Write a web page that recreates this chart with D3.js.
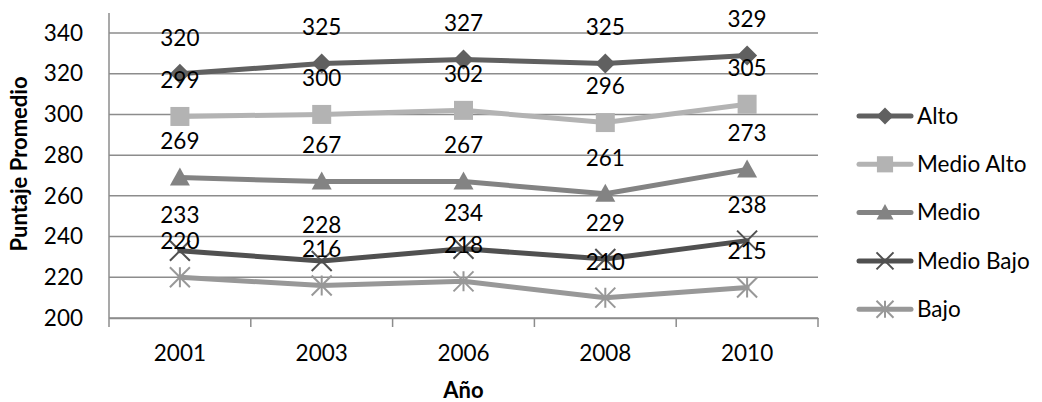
<!DOCTYPE html>
<html>
<head>
<meta charset="utf-8">
<script src="https://cdn.jsdelivr.net/npm/d3@7"></script>
<style>
  html, body { margin: 0; padding: 0; background: #fff; }
  svg { display: block; font-family: Lato, "Open Sans", sans-serif; }
</style>
</head>
<body>
<svg id="chart" width="1042" height="402"></svg>
<script>
// Puntaje promedio por nivel socioeconómico, 2001–2010
const years = ["2001", "2003", "2006", "2008", "2010"];
const seriesNames = ["Alto", "Medio Alto", "Medio", "Medio Bajo", "Bajo"];
const alto = [320, 325, 327, 325, 329];
const medioAlto = [299, 300, 302, 296, 305];
const medio = [269, 267, 267, 261, 273];
const medioBajo = [233, 228, 234, 229, 238];
const bajo = [220, 216, 218, 210, 215];
const yTicks = [200, 220, 240, 260, 280, 300, 320, 340];
const yTitle = "Puntaje Promedio";
const xTitle = "Año";

const seriesValues = [alto, medioAlto, medio, medioBajo, bajo];
const seriesColors = ["#606060", "#b3b3b3", "#838383", "#505050", "#989898"];
const seriesMarkers = ["diamond", "square", "triangle", "cross", "asterisk"];

const series = seriesNames.map((name, i) => ({
  name, values: seriesValues[i], color: seriesColors[i], marker: seriesMarkers[i]
}));

const FONT = 22.5;
const svg = d3.select("#chart");
const plot = { left: 109, right: 818, top: 13, bottom: 318 };

const x = d3.scaleBand().domain(years).range([plot.left, plot.right]);
const xc = d => x(d) + x.bandwidth() / 2;
const y = d3.scaleLinear().domain([200, 340]).range([318, 33]);

const gridColor = "#8c8c8c";

// horizontal gridlines
svg.append("g")
  .selectAll("line")
  .data(yTicks)
  .join("line")
  .attr("x1", plot.left).attr("x2", plot.right)
  .attr("y1", d => y(d)).attr("y2", d => y(d))
  .attr("stroke", gridColor).attr("stroke-width", 1.5);

// y axis
const yAxis = svg.append("g")
  .attr("transform", `translate(${plot.left},0)`)
  .call(d3.axisLeft(y).tickValues(yTicks).tickSize(0).tickPadding(26));
yAxis.select(".domain").remove();
yAxis.selectAll("text").attr("font-size", FONT).attr("fill", "#000")
  .attr("font-family", "Lato, sans-serif");
svg.append("line")
  .attr("x1", plot.left).attr("x2", plot.left)
  .attr("y1", plot.top).attr("y2", plot.bottom)
  .attr("stroke", gridColor).attr("stroke-width", 1.5);

// x axis
const xAxis = svg.append("g")
  .attr("transform", `translate(0,${plot.bottom})`)
  .call(d3.axisBottom(x).tickSize(0).tickPadding(27));
xAxis.select(".domain").attr("stroke", gridColor).attr("stroke-width", 1.5);
xAxis.selectAll("text").attr("font-size", FONT).attr("fill", "#000")
  .attr("font-family", "Lato, sans-serif");
// category boundary ticks
const boundaries = years.map(d => x(d)).concat([plot.right]);
svg.append("g")
  .selectAll("line")
  .data(boundaries)
  .join("line")
  .attr("x1", d => d).attr("x2", d => d)
  .attr("y1", plot.bottom).attr("y2", plot.bottom + 9)
  .attr("stroke", gridColor).attr("stroke-width", 1.5);

// axis titles
svg.append("text")
  .attr("transform", `translate(27,164) rotate(-90)`)
  .attr("text-anchor", "middle")
  .attr("font-size", 22).attr("font-weight", "bold")
  .text(yTitle);
svg.append("text")
  .attr("x", (plot.left + plot.right) / 2).attr("y", 398)
  .attr("text-anchor", "middle")
  .attr("font-size", 22).attr("font-weight", "bold")
  .text(xTitle);

// marker shapes
function drawMarker(g, type, color, s) {
  const h = s / 2;
  if (type === "diamond") {
    g.append("path").attr("d", `M0,${-h}L${h},0L0,${h}L${-h},0Z`).attr("fill", color);
  } else if (type === "square") {
    const q = h * 0.95;
    g.append("rect").attr("x", -q).attr("y", -q).attr("width", 2 * q).attr("height", 2 * q).attr("fill", color);
  } else if (type === "triangle") {
    g.append("path").attr("d", `M0,${-h}L${h},${h * 0.8}L${-h},${h * 0.8}Z`).attr("fill", color);
  } else if (type === "cross") {
    g.append("path").attr("d", `M${-h},${-h}L${h},${h}M${-h},${h}L${h},${-h}`)
      .attr("stroke", color).attr("stroke-width", 2).attr("fill", "none");
  } else if (type === "asterisk") {
    g.append("path").attr("d", `M${-h},${-h}L${h},${h}M${-h},${h}L${h},${-h}M0,${-h}L0,${h}`)
      .attr("stroke", color).attr("stroke-width", 2).attr("fill", "none");
  }
}

const line = d3.line().x((d, i) => xc(years[i])).y(d => y(d));

const seriesG = svg.append("g");
series.forEach(s => {
  seriesG.append("path")
    .attr("d", line(s.values))
    .attr("fill", "none")
    .attr("stroke", s.color)
    .attr("stroke-width", 5)
    .attr("stroke-linejoin", "round")
    .attr("stroke-linecap", "round");
  s.values.forEach((v, i) => {
    const g = seriesG.append("g").attr("transform", `translate(${xc(years[i])},${y(v)})`);
    drawMarker(g, s.marker, s.color, 20);
  });
});

// data labels above each point
const labelG = svg.append("g");
series.forEach(s => {
  labelG.selectAll(null)
    .data(s.values)
    .join("text")
    .attr("x", (d, i) => xc(years[i]))
    .attr("y", d => y(d) - 36)
    .attr("dy", "0.35em")
    .attr("text-anchor", "middle")
    .attr("font-size", FONT)
    .attr("fill", "#000")
    .text(d => d);
});

// legend
const legend = svg.append("g");
series.forEach((s, i) => {
  const ly = 116 + i * 48.3;
  const g = legend.append("g").attr("transform", `translate(0,${ly})`);
  g.append("line").attr("x1", 859).attr("x2", 911).attr("y1", 0).attr("y2", 0)
    .attr("stroke", s.color).attr("stroke-width", 5).attr("stroke-linecap", "round");
  const m = g.append("g").attr("transform", "translate(885,0)");
  drawMarker(m, s.marker, s.color, 17);
  g.append("text").attr("x", 917).attr("y", 0).attr("dy", "0.35em")
    .attr("font-size", FONT).attr("fill", "#000").text(s.name);
});
</script>
</body>
</html>
